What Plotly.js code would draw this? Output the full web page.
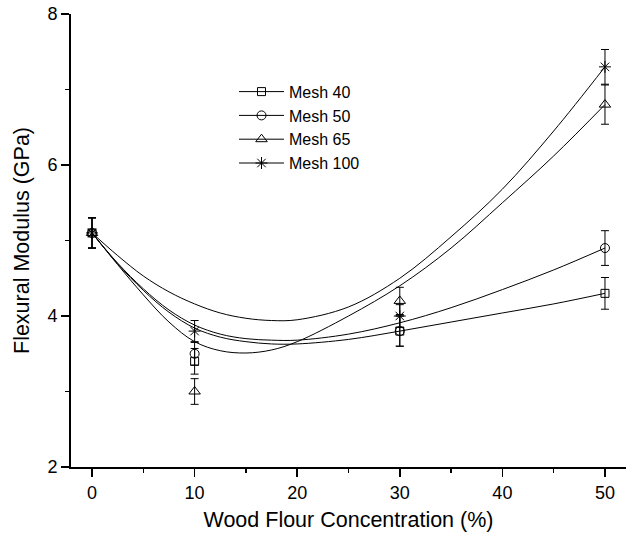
<!DOCTYPE html>
<html>
<head>
<meta charset="utf-8">
<script src="https://cdn.plot.ly/plotly-3.0.1.min.js"></script>
<style>html,body{margin:0;padding:0;background:#fff;}#chart{width:626px;height:537px;}</style>
</head>
<body>
<div id="chart"></div>
<script>
// Measured points
const concentration = [0, 10, 30, 50];
const mesh40 = [5.1, 3.4, 3.8, 4.3];
const mesh50 = [5.1, 3.5, 3.8, 4.9];
const mesh65 = [5.1, 3.0, 4.2, 6.8];
const mesh100 = [5.1, 3.8, 4.0, 7.3];
const err40 = [0.2, 0.17, 0.2, 0.21];
const err50 = [0.2, 0.15, 0.2, 0.23];
const err65 = [0.2, 0.17, 0.18, 0.26];
const err100 = [0.2, 0.14, 0.15, 0.23];

// Fitted curves
const curveX = [0, 2.5, 5, 7.5, 10, 12.5, 15, 17.5, 20, 25, 30, 35, 40, 45, 50];
const fit40 = [5.10, 4.69, 4.34, 4.05, 3.84, 3.72, 3.66, 3.63, 3.63, 3.69, 3.80, 3.92, 4.04, 4.16, 4.30];
const fit50 = [5.10, 4.70, 4.36, 4.08, 3.88, 3.76, 3.70, 3.68, 3.68, 3.76, 3.91, 4.11, 4.35, 4.61, 4.90];
const fit65 = [5.10, 4.68, 4.28, 3.92, 3.66, 3.54, 3.51, 3.55, 3.66, 4.00, 4.40, 4.90, 5.50, 6.12, 6.80];
const fit100 = [5.10, 4.80, 4.53, 4.32, 4.16, 4.04, 3.97, 3.94, 3.95, 4.12, 4.50, 5.05, 5.68, 6.45, 7.30];

const names = ['Mesh 40', 'Mesh 50', 'Mesh 65', 'Mesh 100'];
const symbols = ['square-open', 'circle-open', 'triangle-up-open', 'asterisk-open'];
const sizes = [8, 9, 10, 10];
const seriesY = [mesh40, mesh50, mesh65, mesh100];
const seriesErr = [err40, err50, err65, err100];
const fits = [fit40, fit50, fit65, fit100];

// separate points by gaps so no connecting line is drawn, but the legend shows line + symbol
function isolate(arr) {
  const out = [];
  arr.forEach((v, i) => { if (i) out.push(null); out.push(v); });
  return out;
}

const font = 'Liberation Sans, Arial, sans-serif';
const traces = [];
fits.forEach((f, i) => {
  traces.push({
    x: curveX, y: f, type: 'scatter', mode: 'lines',
    line: {color: '#000', width: 1, shape: 'spline', smoothing: 1},
    showlegend: false, hoverinfo: 'skip'
  });
});
seriesY.forEach((s, i) => {
  traces.push({
    x: isolate(concentration), y: isolate(s), type: 'scatter', mode: 'lines+markers',
    name: names[i],
    line: {color: '#000', width: 1},
    marker: {symbol: symbols[i], size: sizes[i], color: '#000', line: {color: '#000', width: 1}},
    error_y: {type: 'data', array: isolate(seriesErr[i]), visible: true, color: '#000', thickness: 1, width: 4},
    connectgaps: false
  });
});

const xr = [-2.05, 52.05];
const layout = {
  width: 626, height: 537,
  margin: {l: 71, r: 0, t: 14, b: 70},
  paper_bgcolor: '#fff', plot_bgcolor: '#fff',
  font: {family: font, size: 18, color: '#000'},
  showlegend: true,
  legend: {x: 0.2937, y: 0.866, xanchor: 'left', yanchor: 'top', bgcolor: 'rgba(0,0,0,0)',
           font: {family: font, size: 16, color: '#000'}, tracegroupgap: 0, itemwidth: 45},
  xaxis: {
    range: xr, tick0: 0, dtick: 10, ticks: 'outside', ticklen: 8, tickwidth: 1.5, tickcolor: '#000',
    showline: true, linewidth: 2, linecolor: '#000', showgrid: false, zeroline: false,
    minor: {ticks: 'outside', ticklen: 4, tick0: 0, dtick: 5, tickwidth: 1.5, tickcolor: '#000', showgrid: false},
    tickfont: {family: font, size: 18, color: '#000'},
    title: {text: 'Wood Flour Concentration (%)', font: {family: font, size: 21.5, color: '#000'}, standoff: 10}
  },
  xaxis2: {
    overlaying: 'x', anchor: 'y', side: 'top', range: xr, tick0: 0, dtick: 10,
    ticks: 'inside', ticklen: 8, tickwidth: 1.5, tickcolor: '#000', showticklabels: false,
    showline: true, linewidth: 2, linecolor: '#000', showgrid: false, zeroline: false,
    minor: {ticks: 'inside', ticklen: 4, tick0: 0, dtick: 5, tickwidth: 1.5, tickcolor: '#000', showgrid: false}
  },
  yaxis: {
    range: [2, 8], tick0: 2, dtick: 2, ticks: 'outside', ticklen: 8, tickwidth: 1.5, tickcolor: '#000',
    showline: true, linewidth: 2, linecolor: '#000', showgrid: false, zeroline: false,
    minor: {ticks: 'outside', ticklen: 4, tick0: 2, dtick: 1, tickwidth: 1.5, tickcolor: '#000', showgrid: false},
    tickfont: {family: font, size: 18, color: '#000'},
    title: {text: 'Flexural Modulus (GPa)', font: {family: font, size: 21.5, color: '#000'}, standoff: 12}
  }
};

Plotly.newPlot('chart', traces, layout, {displayModeBar: false, staticPlot: true});
</script>
</body>
</html>
